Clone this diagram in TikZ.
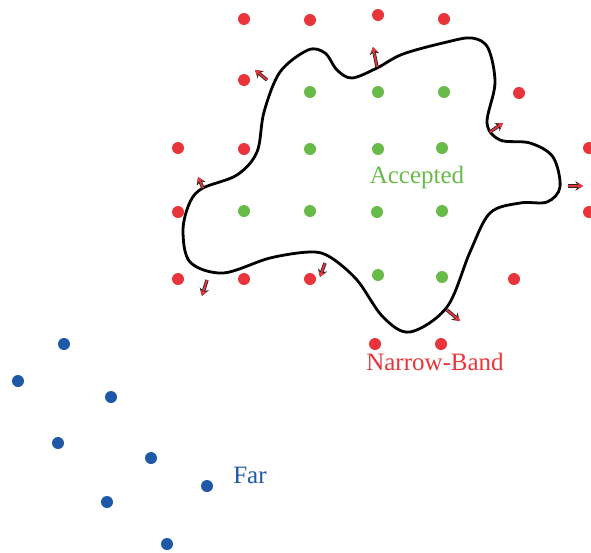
\documentclass[tikz,border=0pt]{standalone}
\usepackage{fontspec}
\setmainfont{Liberation Serif}
\usetikzlibrary{arrows.meta}
\definecolor{bandred}{RGB}{232,52,58}
\definecolor{acceptgreen}{RGB}{104,187,72}
\definecolor{farblue}{RGB}{30,88,166}
\tikzset{dot/.style={circle,inner sep=0pt,minimum size=12pt},
         banddot/.style={dot,fill=bandred},
         acceptdot/.style={dot,fill=acceptgreen},
         fardot/.style={dot,fill=farblue},
         front/.style={draw=black,line width=2.8pt,line join=round},
         outarrow/.style={draw=bandred,line width=1.8pt,-{Stealth[length=5.5pt,width=6.5pt]},
           preaction={draw=black!85,line width=3.4pt,-{Stealth[length=7.5pt,width=9.5pt]}}}}

\begin{document}
\begin{tikzpicture}[x=1pt,y=-1pt,font=\fontsize{25}{30}\selectfont]
  \useasboundingbox (0,0) rectangle (591,552);
  % narrow band points
  \foreach \px/\py [count=\i] in {244/19,310/20,378/15,444/19,244/80,519/93,
      178/148,244/149,589/148,178/212,589/212,178/279,244/279,310/279,514/279,
      375/344,441/344}
    \node[banddot] (band\i) at (\px,\py) {};
  % accepted points
  \foreach \px/\py [count=\i] in {310/92,378/92,444/92,310/149,378/149,442/148,
      244/211,310/211,377/212,442/211,378/275,442/277}
    \node[acceptdot] (acc\i) at (\px,\py) {};
  % far points
  \foreach \px/\py [count=\i] in {64/344,18/381,111/397,58/443,151/458,207/486,
      107/502,167/544}
    \node[fardot] (far\i) at (\px,\py) {};
  % the front
  \draw[front] plot[smooth cycle,tension=0.55] coordinates {
      (257,152) (264,112) (280,72) (308,50) (325,53) (337,70) (352,78)
      (377,68) (403,54) (447,42) (472,38) (488,48) (495,83) (487,123)
      (500,140) (530,143) (553,157) (560,187) (547,202) (520,203) (490,213)
      (470,252) (447,307) (410,332) (383,317) (357,280) (330,257) (310,252)
      (270,258) (223,273) (190,262) (183,230) (190,202) (203,188) (237,175)};
  % outward normals
  \foreach \ax/\ay/\bx/\by in {267/80/255/70,377/67/373/47,490/132/503/123,
      568/186/583/186,447/310/460/321,325/263/320/277,207/280/202/296,
      203/188/198/177}
    \draw[outarrow] (\ax,\ay) -- (\bx,\by);
  \node[text=acceptgreen] (acctext) at (417,177) {Accepted};
  \node[text=bandred] (bandtext) at (435,362) {Narrow-Band};
  \node[text=farblue] (fartext) at (250,475) {Far};
\end{tikzpicture}
\end{document}
